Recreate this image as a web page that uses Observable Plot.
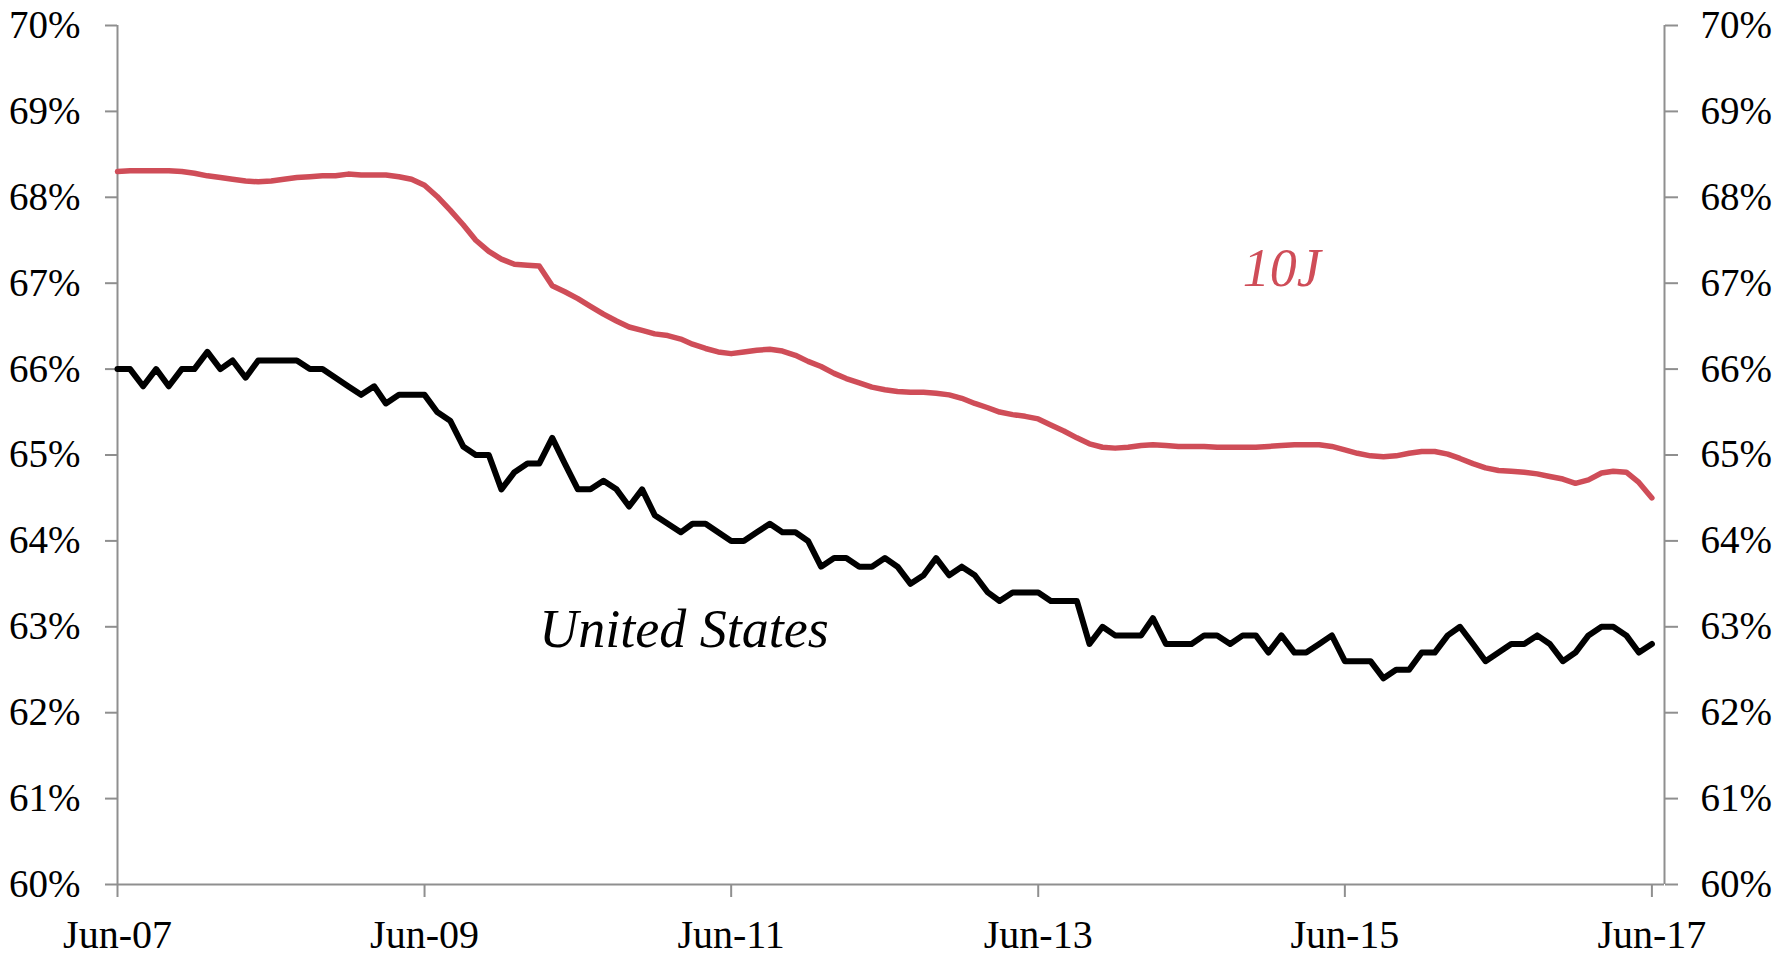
<!DOCTYPE html>
<html>
<head>
<meta charset="utf-8">
<script src="https://cdn.jsdelivr.net/npm/d3@7"></script>
<script src="https://cdn.jsdelivr.net/npm/@observablehq/plot@0.6"></script>
<style>
  html, body { margin: 0; padding: 0; background: #fff; }
  #chart { width: 1787px; height: 965px; }
</style>
</head>
<body>
<div id="chart"></div>
<script>
// Monthly series, Jun-2007 .. Jun-2017 (121 months)
const startMonth = new Date(Date.UTC(2007, 5, 1));
const usValues = [
  66.0, 66.0, 65.8, 66.0, 65.8, 66.0, 66.0,
  66.2, 66.0, 66.1, 65.9, 66.1, 66.1, 66.1, 66.1, 66.0, 66.0, 65.9, 65.8,
  65.7, 65.8, 65.6, 65.7, 65.7, 65.7, 65.5, 65.4, 65.1, 65.0, 65.0, 64.6,
  64.8, 64.9, 64.9, 65.2, 64.9, 64.6, 64.6, 64.7, 64.6, 64.4, 64.6, 64.3,
  64.2, 64.1, 64.2, 64.2, 64.1, 64.0, 64.0, 64.1, 64.2, 64.1, 64.1, 64.0,
  63.7, 63.8, 63.8, 63.7, 63.7, 63.8, 63.7, 63.5, 63.6, 63.8, 63.6, 63.7,
  63.6, 63.4, 63.3, 63.4, 63.4, 63.4, 63.3, 63.3, 63.3, 62.8, 63.0, 62.9,
  62.9, 62.9, 63.1, 62.8, 62.8, 62.8, 62.9, 62.9, 62.8, 62.9, 62.9, 62.7,
  62.9, 62.7, 62.7, 62.8, 62.9, 62.6, 62.6, 62.6, 62.4, 62.5, 62.5, 62.7,
  62.7, 62.9, 63.0, 62.8, 62.6, 62.7, 62.8, 62.8, 62.9, 62.8, 62.6, 62.7,
  62.9, 63.0, 63.0, 62.9, 62.7, 62.8
];
const tenJValues = [
  68.30, 68.31, 68.31, 68.31, 68.31, 68.30, 68.28,
  68.25, 68.23, 68.21, 68.19, 68.18, 68.19, 68.21, 68.23, 68.24, 68.25, 68.25, 68.27,
  68.26, 68.26, 68.26, 68.24, 68.21, 68.14, 68.01, 67.85, 67.68, 67.50, 67.37, 67.28,
  67.22, 67.21, 67.20, 66.97, 66.90, 66.82, 66.73, 66.64, 66.56, 66.49, 66.45, 66.41,
  66.39, 66.35, 66.29, 66.24, 66.20, 66.18, 66.20, 66.22, 66.23, 66.21, 66.16, 66.09,
  66.03, 65.95, 65.89, 65.84, 65.79, 65.76, 65.74, 65.73, 65.73, 65.72, 65.70, 65.66,
  65.60, 65.55, 65.50, 65.47, 65.45, 65.42, 65.35, 65.28, 65.20, 65.13, 65.09, 65.08,
  65.09, 65.11, 65.12, 65.11, 65.10, 65.10, 65.10, 65.09, 65.09, 65.09, 65.09, 65.10,
  65.11, 65.12, 65.12, 65.12, 65.10, 65.06, 65.02, 64.99, 64.98, 64.99, 65.02, 65.04,
  65.04, 65.01, 64.96, 64.90, 64.85, 64.82, 64.81, 64.80, 64.78, 64.75, 64.72, 64.67,
  64.71, 64.79, 64.81, 64.80, 64.68, 64.50
];
const yTicks = [60, 61, 62, 63, 64, 65, 66, 67, 68, 69, 70];
const xTickYears = [2007, 2009, 2011, 2013, 2015, 2017];
const seriesLabels = [
  {name: "United States", year: 2010, month: 2, value: 62.77, color: "#000000"},
  {name: "10J", year: 2014, month: 9, value: 66.97, color: "#cf4d58"}
];

const monthDate = (i) => d3.utcMonth.offset(startMonth, i);
const usData = usValues.map((v, i) => ({date: monthDate(i), value: v}));
const tenJData = tenJValues.map((v, i) => ({date: monthDate(i), value: v}));
const xTicks = xTickYears.map(y => new Date(Date.UTC(y, 5, 1)));
const labelData = seriesLabels.map(d => ({...d, date: new Date(Date.UTC(d.year, d.month, 1))}));
const xDomain = [startMonth, new Date(Date.UTC(2017, 6, 1))];

const axisGray = "#8f8f8f";
const font = "'Liberation Serif', 'Times New Roman', serif";

const chart = Plot.plot({
  width: 1787,
  height: 965,
  marginLeft: 117,
  marginRight: 123,
  marginTop: 25,
  marginBottom: 81,
  style: {fontFamily: font, fontSize: "39px", background: "#fff", color: "#000", overflow: "visible"},
  x: {type: "utc", domain: xDomain},
  y: {domain: [60, 70]},
  marks: [
    Plot.ruleX([xDomain[0]], {stroke: axisGray, strokeWidth: 2}),
    Plot.ruleX([xDomain[1]], {stroke: axisGray, strokeWidth: 2}),
    Plot.ruleY([60], {stroke: axisGray, strokeWidth: 2}),
    Plot.axisY({anchor: "left", ticks: yTicks, tickFormat: d => d + "%", tickSize: 12, tickPadding: 25, stroke: axisGray, fill: "#000", strokeWidth: 2, label: null, fontSize: 39}),
    Plot.axisY({anchor: "right", ticks: yTicks, tickFormat: d => d + "%", tickSize: 13, tickPadding: 23, stroke: axisGray, fill: "#000", strokeWidth: 2, label: null, fontSize: 39}),
    Plot.axisX({anchor: "bottom", ticks: xTicks, tickFormat: d3.utcFormat("%b-%y"), tickSize: 13, tickPadding: 22, stroke: axisGray, fill: "#000", strokeWidth: 2, label: null, fontSize: 40}),
    Plot.line(tenJData, {x: "date", y: "value", stroke: "#cf4d58", strokeWidth: 5.5}),
    Plot.line(usData, {x: "date", y: "value", stroke: "#000", strokeWidth: 6}),
    Plot.text(labelData, {x: "date", y: "value", text: "name", fill: "color", textAnchor: "start", lineAnchor: "bottom", fontSize: 54, fontStyle: "italic", fontFamily: font})
  ]
});
document.getElementById("chart").appendChild(chart);
</script>
</body>
</html>
